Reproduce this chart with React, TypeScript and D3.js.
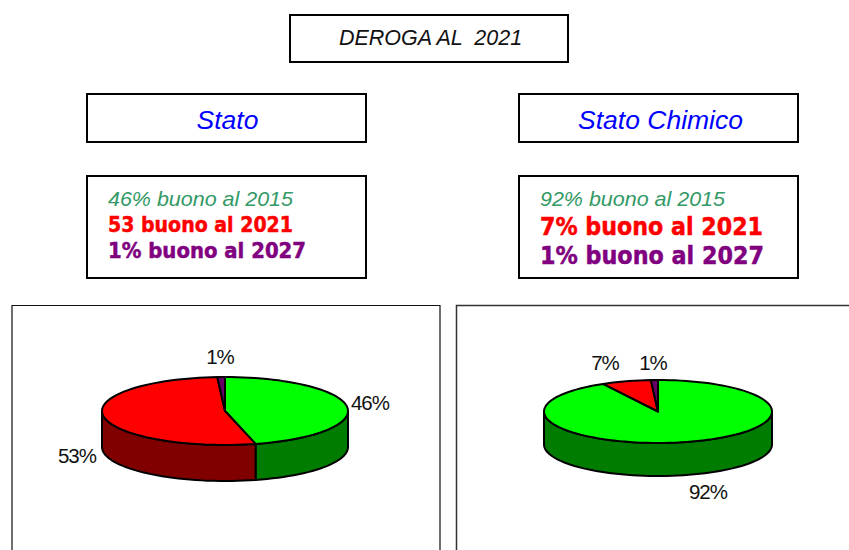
import React from "react";
import * as d3 from "d3";

// Data
const categories = ["buono al 2015", "buono al 2021", "buono al 2027"];
const statoValues = [46, 53, 1];
const chimicoValues = [92, 7, 1];
const statoLines = ["46% buono al 2015", "53 buono al 2021", "1% buono al 2027"];
const chimicoLines = ["92% buono al 2015", "7% buono al 2021", "1% buono al 2027"];
const headerTitle = "DEROGA AL  2021";
const statoTitle = "Stato";
const chimicoTitle = "Stato Chimico";

// Styles
const topColors = ["#00ff00", "#ff0000", "#660066"];
const wallColors = ["#007d00", "#800000", "#330033"];
const lineColors = ["#339966", "#ff0000", "#800080"];
const sans = "'Liberation Sans', Arial, sans-serif";
const tahoma = "'DejaVu Sans', Verdana, sans-serif";

type PieGeom = { cx: number; cy: number; rx: number; ry: number; depth: number };

function Pie3D({ values, geom, labelPos }: { values: number[]; geom: PieGeom; labelPos: [number, number][] }) {
  const { cx, cy, rx, ry, depth } = geom;
  const arcs = d3.pie<number>().sort(null).value((d) => d)(values);
  const xs = d3.scaleLinear().domain([-1, 1]).range([cx - rx, cx + rx]);
  const ys = d3.scaleLinear().domain([-1, 1]).range([cy - ry, cy + ry]);
  const rim = (a0: number, a1: number, dy = 0): [number, number][] => {
    const n = Math.max(2, Math.ceil((a1 - a0) / 0.05));
    return d3.range(n + 1).map((i) => {
      const a = a0 + ((a1 - a0) * i) / n;
      return [xs(Math.sin(a)), ys(-Math.cos(a)) + dy] as [number, number];
    });
  };
  const line = d3.line();
  const wallFrom = Math.PI / 2;
  const wallTo = (3 * Math.PI) / 2;
  return (
    <g stroke="#000" strokeWidth={2} strokeLinejoin="round">
      {arcs.map((a, i) => {
        const a0 = Math.max(a.startAngle, wallFrom);
        const a1 = Math.min(a.endAngle, wallTo);
        if (a1 <= a0) return null;
        const pts = [...rim(a0, a1), ...rim(a0, a1, depth).reverse()];
        return <path key={"w" + i} d={line(pts) + "Z"} fill={wallColors[i]} />;
      })}
      {arcs.map((a, i) => {
        const pts: [number, number][] = [[xs(0), ys(0)], ...rim(a.startAngle, a.endAngle)];
        return <path key={"t" + i} d={line(pts) + "Z"} fill={topColors[i]} />;
      })}
      {arcs.map((a, i) => (
        <text key={"l" + i} x={labelPos[i][0]} y={labelPos[i][1]} textAnchor="middle" stroke="none" fill="#111"
          fontFamily={sans} fontSize={20.5} letterSpacing={-1} dominantBaseline="central">
          {values[i]}%
        </text>
      ))}
    </g>
  );
}

function Box({ x, y, w, h }: { x: number; y: number; w: number; h: number }) {
  return <rect x={x} y={y} width={w} height={h} fill="#fff" stroke="#000" strokeWidth={2} />;
}

function InfoLines({ x, lines, ys, sizes, lens }: { x: number; lines: string[]; ys: number[]; sizes: number[]; lens: number[] }) {
  return (
    <g>
      {lines.map((t, i) => (
        <text key={categories[i]} x={x} y={ys[i]} fill={lineColors[i]} fontFamily={i === 0 ? sans : tahoma}
          fontStyle={i === 0 ? "italic" : "normal"} fontWeight={i === 0 ? 400 : 700} fontSize={sizes[i]}
          stroke={i === 0 ? "none" : lineColors[i]} strokeWidth={0.5}
          textLength={lens[i]} lengthAdjust="spacingAndGlyphs">
          {t}
        </text>
      ))}
    </g>
  );
}

export default function App() {
  return (
    <svg width={849} height={550} style={{ position: "absolute", left: 0, top: 0, background: "#fff" }}>
      <Box x={290} y={15} w={278} h={47} />
      <text x={430.5} y={45} textAnchor="middle" fontFamily={sans} fontStyle="italic" fontSize={21.5} fill="#111" xmlSpace="preserve">
        {headerTitle}
      </text>

      <Box x={87} y={94} w={279} h={48} />
      <text x={227.5} y={129} textAnchor="middle" fontFamily={sans} fontStyle="italic" fontSize={26.5} fill="#0000ff">
        {statoTitle}
      </text>
      <Box x={519} y={94} w={279} h={48} />
      <text x={660.5} y={129} textAnchor="middle" fontFamily={sans} fontStyle="italic" fontSize={26.5} fill="#0000ff">
        {chimicoTitle}
      </text>

      <Box x={87} y={176} w={279} h={102} />
      <InfoLines x={108} lines={statoLines} ys={[206, 231.5, 257.5]} sizes={[21, 21, 21]} lens={[185, 185, 198]} />
      <Box x={519} y={176} w={279} h={102} />
      <InfoLines x={540} lines={chimicoLines} ys={[206, 235, 264]} sizes={[21, 24, 24]} lens={[185, 223, 224]} />

      <path d="M12 550V305.5H440V550" fill="none" stroke="#111" strokeWidth={1.2} />
      <path d="M456.5 550V305.5H849" fill="none" stroke="#333" strokeWidth={1.5} />

      <Pie3D values={statoValues} geom={{ cx: 225, cy: 411, rx: 123, ry: 34, depth: 36 }}
        labelPos={[[370, 402], [77, 455], [220, 356]]} />
      <Pie3D values={chimicoValues} geom={{ cx: 658, cy: 411.5, rx: 114, ry: 31.5, depth: 33 }}
        labelPos={[[708, 491], [605, 362], [653, 362]]} />
    </svg>
  );
}
